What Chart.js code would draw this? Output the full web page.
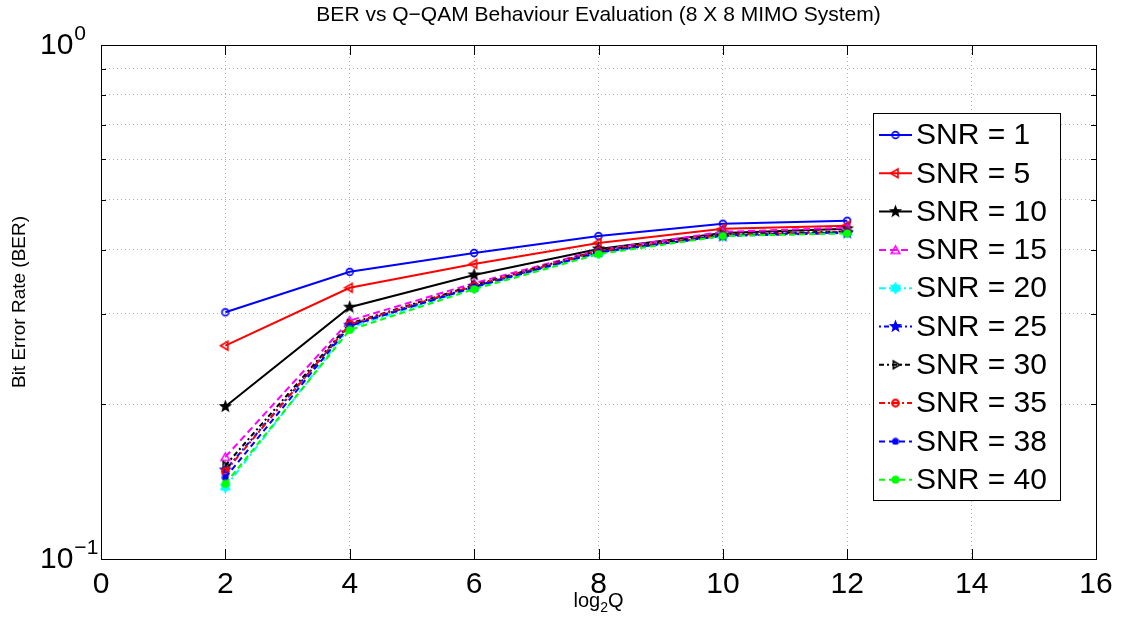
<!DOCTYPE html>
<html>
<head>
<meta charset="utf-8">
<title>BER vs Q-QAM</title>
<script src="https://cdn.jsdelivr.net/npm/chart.js@4.4.1/dist/chart.umd.min.js"></script>
<style>
    html, body { margin: 0; padding: 0; background: #fff; }
    #wrap { width: 1122px; height: 630px; }
</style>
</head>
<body>
<div id="wrap"><canvas id="ber-chart" width="1122" height="630"></canvas></div>
<script>
// =============================
// DATA
// =============================
const qBits = [2, 4, 6, 8, 10, 12];
const snrLabels = ['SNR = 1', 'SNR = 5', 'SNR = 10', 'SNR = 15', 'SNR = 20',
                   'SNR = 25', 'SNR = 30', 'SNR = 35', 'SNR = 38', 'SNR = 40'];

const berSnr1  = [0.302, 0.362, 0.394, 0.425, 0.449, 0.455];
const berSnr5  = [0.260, 0.337, 0.375, 0.412, 0.439, 0.445];
const berSnr10 = [0.198, 0.309, 0.357, 0.401, 0.431, 0.439];
const berSnr15 = [0.158, 0.291, 0.344, 0.399, 0.433, 0.441];
const berSnr20 = [0.138, 0.282, 0.337, 0.394, 0.426, 0.432];
const berSnr25 = [0.149, 0.285, 0.339, 0.396, 0.425, 0.431];
const berSnr30 = [0.152, 0.287, 0.341, 0.398, 0.428, 0.434];
const berSnr35 = [0.148, 0.286, 0.340, 0.397, 0.427, 0.433];
const berSnr38 = [0.144, 0.284, 0.338, 0.395, 0.426, 0.432];
const berSnr40 = [0.140, 0.279, 0.335, 0.392, 0.425, 0.430];

const xTickValues = [0, 2, 4, 6, 8, 10, 12, 14, 16];
const yTickValues = [0.1, 0.2, 0.3, 0.4, 0.5, 0.6, 0.7, 0.8, 0.9, 1];

const FONT = '"Liberation Sans", Arial, Helvetica, sans-serif';

// MATLAB-like marker glyphs drawn on small canvases
function makeMarker(kind, color, size, lw) {
    const c = document.createElement('canvas');
    c.width = size; c.height = size;
    const g = c.getContext('2d');
    const m = size / 2;
    g.strokeStyle = color;
    g.fillStyle = color;
    g.lineWidth = lw;
    g.beginPath();
    if (kind === 'circle') {
        g.arc(m, m, m - lw, 0, Math.PI * 2);
        g.stroke();
    } else if (kind === 'dot') {
        g.arc(m, m, m - 0.5, 0, Math.PI * 2);
        g.fill();
    } else if (kind.startsWith('tri')) {
        const start = kind === 'triUp' ? -Math.PI / 2 : (kind === 'triLeft' ? Math.PI : 0);
        const r = m - lw;
        for (let k = 0; k < 3; k++) {
            const a = start + k * 2 * Math.PI / 3;
            const px = m + r * Math.cos(a), py = m + r * Math.sin(a) + (kind === 'triUp' ? r * 0.2 : 0);
            k === 0 ? g.moveTo(px, py) : g.lineTo(px, py);
        }
        g.closePath();
        g.stroke();
    } else if (kind === 'pent' || kind === 'hex') {
        const n = kind === 'pent' ? 5 : 6;
        const inner = kind === 'pent' ? 0.42 : 0.6;
        const r = m - 0.5;
        for (let k = 0; k < n * 2; k++) {
            const a = -Math.PI / 2 + k * Math.PI / n;
            const rr = k % 2 === 0 ? r : r * inner;
            const px = m + rr * Math.cos(a), py = m + rr * Math.sin(a);
            k === 0 ? g.moveTo(px, py) : g.lineTo(px, py);
        }
        g.closePath();
        g.fill();
    }
    return c;
}

const seriesValues = [berSnr1, berSnr5, berSnr10, berSnr15, berSnr20,
                      berSnr25, berSnr30, berSnr35, berSnr38, berSnr40];
const seriesColors = ['#0000ff', '#ff0000', '#000000', '#ff00ff', '#00ffff',
                      '#0000ff', '#000000', '#ff0000', '#0000ff', '#00ff00'];
const seriesDash = [[], [], [], [7, 4], [7, 3, 2, 3], [2, 3, 5, 3], [5, 3, 2, 3], [6, 3, 2, 3], [6, 4], [6, 4]];
const seriesMarkers = [
    makeMarker('circle', '#0000ff', 10, 1.6),
    makeMarker('triLeft', '#ff0000', 13, 1.6),
    makeMarker('pent', '#000000', 15, 1),
    makeMarker('triUp', '#ff00ff', 13, 1.6),
    makeMarker('hex', '#00ffff', 14, 1),
    makeMarker('pent', '#0000ff', 15, 1),
    makeMarker('triRight', '#000000', 12, 1.6),
    makeMarker('circle', '#ff0000', 11, 2.2),
    makeMarker('dot', '#0000ff', 8, 1),
    makeMarker('dot', '#00ff00', 9, 1)
];

const datasets = seriesValues.map((vals, i) => ({
    label: snrLabels[i],
    data: qBits.map((q, j) => ({ x: q, y: vals[j] })),
    borderColor: seriesColors[i],
    backgroundColor: seriesColors[i],
    borderWidth: 2,
    borderDash: seriesDash[i],
    pointStyle: seriesMarkers[i],
    pointRadius: 5,
    fill: false,
    tension: 0,
    order: seriesValues.length - i   // later series on top, like MATLAB
}));

// frame, inward ticks, custom labels and the legend box
const matlabFrame = {
    id: 'matlabFrame',
    afterDraw(chart) {
        const ctx = chart.ctx;
        const area = chart.chartArea;
        const xs = chart.scales.x, ys = chart.scales.y;
        ctx.save();

        // box
        ctx.strokeStyle = '#000';
        ctx.lineWidth = 1;
        ctx.strokeRect(area.left + 0.5, area.top + 0.5, area.right - area.left, area.bottom - area.top);

        // inward ticks
        ctx.beginPath();
        xTickValues.forEach(v => {
            const px = Math.round(xs.getPixelForValue(v)) + 0.5;
            ctx.moveTo(px, area.bottom); ctx.lineTo(px, area.bottom - 10);
            ctx.moveTo(px, area.top); ctx.lineTo(px, area.top + 10);
        });
        yTickValues.forEach(v => {
            const py = Math.round(ys.getPixelForValue(v)) + 0.5;
            ctx.moveTo(area.left, py); ctx.lineTo(area.left + 5, py);
            ctx.moveTo(area.right, py); ctx.lineTo(area.right - 5, py);
        });
        ctx.stroke();

        // y tick labels 10^0 and 10^-1
        ctx.fillStyle = '#000';
        [[1, '0'], [0.1, '\u22121']].forEach(([v, exp]) => {
            const py = ys.getPixelForValue(v);
            ctx.font = '30px ' + FONT;
            ctx.textAlign = 'left';
            ctx.textBaseline = 'middle';
            ctx.fillText('10', 40, py + 1);
            const w = ctx.measureText('10').width;
            ctx.font = '21px ' + FONT;
            ctx.textBaseline = 'alphabetic';
            ctx.fillText(exp, 40 + w + 1, py - 5);
        });

        // title
        ctx.font = '21px ' + FONT;
        ctx.textAlign = 'center';
        ctx.textBaseline = 'middle';
        ctx.fillText('BER vs Q\u2212QAM Behaviour Evaluation (8 X 8 MIMO System)', (area.left + area.right) / 2, 15);

        // y title
        ctx.save();
        ctx.translate(20, (area.top + area.bottom) / 2);
        ctx.rotate(-Math.PI / 2);
        ctx.font = '19px ' + FONT;
        ctx.fillText('Bit Error Rate (BER)', 0, 0);
        ctx.restore();

        // x title log2Q
        const cx = (area.left + area.right) / 2, ty = 607;
        ctx.font = '20px ' + FONT;
        const wLog = ctx.measureText('log').width;
        const wQ = ctx.measureText('Q').width;
        ctx.font = '14px ' + FONT;
        const w2 = ctx.measureText('2').width;
        let sx = cx - (wLog + w2 + wQ) / 2;
        ctx.textAlign = 'left';
        ctx.textBaseline = 'alphabetic';
        ctx.font = '20px ' + FONT;
        ctx.fillText('log', sx, ty);
        ctx.font = '14px ' + FONT;
        ctx.fillText('2', sx + wLog, ty + 5);
        ctx.font = '20px ' + FONT;
        ctx.fillText('Q', sx + wLog + w2, ty);

        // legend
        const lx = 873, ly = 113, lw = 187, lh = 387;
        ctx.fillStyle = '#fff';
        ctx.fillRect(lx, ly, lw, lh);
        ctx.strokeStyle = '#000';
        ctx.lineWidth = 1;
        ctx.strokeRect(lx + 0.5, ly + 0.5, lw, lh);
        chart.data.datasets.forEach((ds, i) => {
            const rowY = 135 + i * 38.3;
            ctx.save();
            ctx.strokeStyle = ds.borderColor;
            ctx.lineWidth = 2;
            ctx.setLineDash(ds.borderDash);
            ctx.beginPath();
            ctx.moveTo(879, rowY); ctx.lineTo(912, rowY);
            ctx.stroke();
            ctx.restore();
            const img = ds.pointStyle;
            ctx.drawImage(img, 895.5 - img.width / 2, rowY - img.height / 2);
            ctx.fillStyle = '#000';
            ctx.font = '30px ' + FONT;
            ctx.textAlign = 'left';
            ctx.textBaseline = 'middle';
            ctx.fillText(ds.label, 916, rowY + 1);
        });
        ctx.restore();
    }
};

const ctx = document.getElementById('ber-chart').getContext('2d');
const berChart = new Chart(ctx, {
    type: 'line',
    data: { datasets: datasets },
    options: {
        responsive: false,
        animation: false,
        layout: { padding: { top: 45, right: 26, left: 0, bottom: 0 } },
        scales: {
            x: {
                type: 'linear',
                min: 0,
                max: 16,
                afterBuildTicks: scale => { scale.ticks = xTickValues.map(v => ({ value: v })); },
                afterFit: scale => { scale.height = 71; },
                grid: {
                    color: c => (c.tick && (c.tick.value === 0 || c.tick.value === 16)) ? 'rgba(0,0,0,0)' : '#b0b0b0',
                    drawTicks: false
                },
                border: { display: false, dash: [1, 3] },
                ticks: {
                    color: '#000',
                    font: { family: FONT, size: 30 },
                    padding: 8,
                    maxRotation: 0,
                    callback: v => String(v)
                }
            },
            y: {
                type: 'logarithmic',
                min: 0.1,
                max: 1,
                afterBuildTicks: scale => { scale.ticks = yTickValues.map(v => ({ value: v })); },
                afterFit: scale => { scale.width = 101; },
                grid: {
                    color: c => (c.tick && (c.tick.value === 0.1 || c.tick.value === 1)) ? 'rgba(0,0,0,0)' : '#b0b0b0',
                    drawTicks: false
                },
                border: { display: false, dash: [1, 3] },
                ticks: { display: false }
            }
        },
        plugins: {
            legend: { display: false },
            tooltip: { enabled: false },
            title: { display: false }
        }
    },
    plugins: [matlabFrame]
});
</script>
</body>
</html>
